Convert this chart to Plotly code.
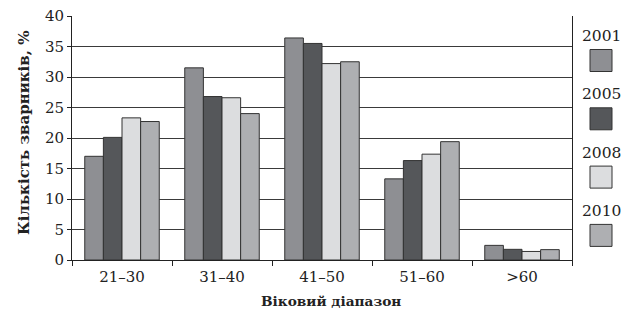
import plotly.graph_objects as go

categories = ["21–30", "31–40", "41–50", "51–60", ">60"]
years = ["2001", "2005", "2008", "2010"]
v2001 = [17.0, 31.5, 36.4, 13.3, 2.4]
v2005 = [20.1, 26.8, 35.5, 16.3, 1.75]
v2008 = [23.3, 26.6, 32.2, 17.35, 1.4]
v2010 = [22.7, 24.0, 32.5, 19.4, 1.7]
series = [v2001, v2005, v2008, v2010]
colors = ["#8e8f93", "#55575a", "#dcdddf", "#aeafb2"]
x_title = "Віковий діапазон"
y_title = "Кількість зварників, %"

FONT = "DejaVu Serif"
W, H = 623, 313
L, R, T, B = 72, 51, 16, 53
PW, PH = W - L - R, H - T - B


def px(x):
    return (x - L) / PW


def py(y):
    return 1 - (y - T) / PH


fig = go.Figure()
for name, vals, col in zip(years, series, colors):
    fig.add_trace(go.Bar(
        x=categories, y=vals, name=name,
        marker=dict(color=col, line=dict(color="#333333", width=1)),
        showlegend=False,
    ))

# custom legend: year text above a square
for i, (name, col) in enumerate(zip(years, colors)):
    top = 36 + i * 58.3
    fig.add_annotation(
        xref="paper", yref="paper",
        x=px(601), y=py(top),
        text=name, showarrow=False,
        font=dict(family=FONT, size=15.5, color="#222"),
        xanchor="center", yanchor="middle",
    )
    sq_top = top + 13.5
    fig.add_shape(
        type="rect", xref="paper", yref="paper",
        x0=px(590), x1=px(612),
        y0=py(sq_top), y1=py(sq_top + 22),
        fillcolor=col, line=dict(color="#333333", width=1),
    )

# axis titles
fig.add_annotation(
    xref="paper", yref="paper", x=px(331), y=py(301),
    text="<b>" + x_title + "</b>", showarrow=False,
    font=dict(family=FONT, size=13.7, color="#222"),
    xanchor="center", yanchor="middle",
)
fig.add_annotation(
    xref="paper", yref="paper", x=px(24), y=py(133),
    text="<b>" + y_title + "</b>", showarrow=False, textangle=-90,
    font=dict(family=FONT, size=15, color="#222"),
    xanchor="center", yanchor="middle",
)

fig.update_layout(
    width=W, height=H,
    margin=dict(l=L, r=R, t=T, b=B, autoexpand=False),
    paper_bgcolor="white", plot_bgcolor="white",
    barmode="group", bargap=0.255, bargroupgap=0,
    font=dict(family=FONT, size=15, color="#222"),
)
fig.update_xaxes(
    type="category", automargin=False,
    showline=True, linecolor="#222", linewidth=1,
    ticks="outside", tickson="boundaries", ticklen=5, tickcolor="#222",
    ticklabelstandoff=3,
    tickfont=dict(family=FONT, size=15, color="#222"),
    showgrid=False,
)
fig.update_yaxes(
    range=[0, 40], dtick=5, automargin=False,
    showline=True, linecolor="#222", linewidth=1, mirror=True,
    ticks="outside", ticklen=4, tickcolor="#222",
    tickfont=dict(family=FONT, size=15, color="#222"),
    showgrid=True, gridcolor="#3a3a3a", gridwidth=1,
)

fig.write_html(
    "out.html",
    config={"displayModeBar": False},
    post_script="document.body.style.margin='0';document.body.style.overflow='hidden';",
)
